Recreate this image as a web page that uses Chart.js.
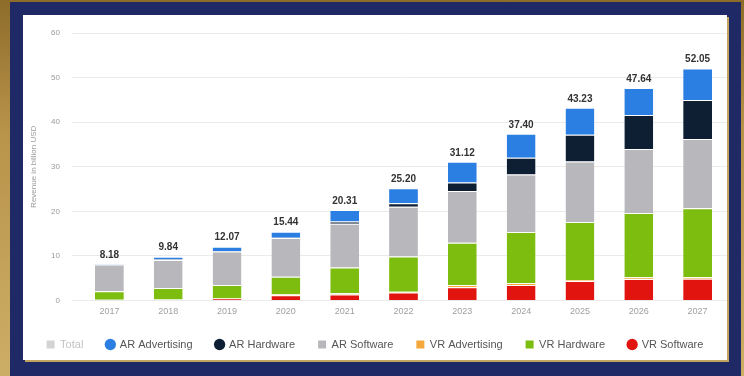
<!DOCTYPE html>
<html>
<head>
<meta charset="utf-8">
<script src="https://cdn.jsdelivr.net/npm/chart.js@4.4.1/dist/chart.umd.min.js"></script>
<style>
  html, body { margin: 0; padding: 0; }
  body {
    width: 744px; height: 376px; overflow: hidden; position: relative;
    background: linear-gradient(180deg, #8d6c2a 0%, #b8934a 35%, #cdae66 100%);
  }
  #frame {
    position: absolute; left: 10px; top: 2px; width: 731px; height: 374px;
    background: #1f2966;
  }
  #panel {
    position: absolute; left: 23px; top: 15px; width: 704px; height: 345px;
    background: #fff; box-shadow: 2px 2px 0 #c2a45e;
  }
  canvas { display: block; }
</style>
</head>
<body>
<div id="frame"></div>
<div id="panel"><canvas id="myChart" width="704" height="345"></canvas></div>
<script>
// years on the x axis
var years = ['2017', '2018', '2019', '2020', '2021', '2022', '2023', '2024', '2025', '2026', '2027'];

// segment values, billion USD
var vrSoftware    = [0.10, 0.15, 0.40, 1.20, 1.35, 1.80, 3.00, 3.50, 4.40, 4.80, 4.90];
var vrAdvertising = [0.05, 0.05, 0.10, 0.20, 0.25, 0.15, 0.45, 0.45, 0.20, 0.40, 0.30];
var vrHardware    = [1.90, 2.60, 3.00, 3.90, 5.80, 7.90, 9.50, 11.40, 13.00, 14.40, 15.50];
var arSoftware    = [6.00, 6.30, 7.50, 8.70, 9.80, 11.20, 11.60, 12.90, 13.60, 14.40, 15.50];
var arHardware    = [0.03, 0.10, 0.10, 0.10, 0.50, 0.75, 1.90, 3.75, 6.00, 7.60, 8.80];
var arAdvertising = [0.10, 0.64, 0.97, 1.34, 2.61, 3.40, 4.67, 5.40, 6.03, 6.04, 7.05];
var totals        = [8.18, 9.84, 12.07, 15.44, 20.31, 25.20, 31.12, 37.40, 43.23, 47.64, 52.05];

var yTicks = [0, 10, 20, 30, 40, 50, 60];

// order of the legend entries, left to right
var legendOrder = ['Total', 'AR Advertising', 'AR Hardware', 'AR Software', 'VR Advertising', 'VR Hardware', 'VR Software'];

var fontName = "'Liberation Sans', Arial, sans-serif";

function makeSet(label, data, color, style) {
    return {
        label: label,
        data: data,
        backgroundColor: color,
        borderColor: 'rgba(255,255,255,0.55)',
        borderWidth: { top: 1, left: 0, right: 0, bottom: 0 },
        borderSkipped: false,
        legendStyle: style
    };
}

// labels with the total on top of every stack
var totalLabels = {
    id: 'totalLabels',
    afterDatasetsDraw(chart) {
        var ctx = chart.ctx;
        var topMeta = chart.getDatasetMeta(5);
        ctx.save();
        ctx.font = 'bold 10px ' + fontName;
        ctx.fillStyle = '#333';
        ctx.textAlign = 'center';
        ctx.textBaseline = 'bottom';
        for (let i = 0; i < totals.length; i++) {
            var bar = topMeta.data[i];
            ctx.fillText(totals[i].toFixed(2), bar.x, bar.y - 4);
        }
        ctx.restore();
    }
};

var ctx = document.getElementById('myChart');
var chart = new Chart(ctx, {
    type: 'bar',
    data: {
        labels: years,
        datasets: [
            makeSet('VR Software', vrSoftware, '#e1140f', 'circle'),
            makeSet('VR Advertising', vrAdvertising, '#f4a93a', 'rect'),
            makeSet('VR Hardware', vrHardware, '#7dbd10', 'rect'),
            makeSet('AR Software', arSoftware, '#b8b8bc', 'rect'),
            makeSet('AR Hardware', arHardware, '#0f1f33', 'circle'),
            makeSet('AR Advertising', arAdvertising, '#2c7fe2', 'circle'),
            {
                label: 'Total',
                data: totals,
                backgroundColor: '#d4d4d4',
                hidden: true,
                legendStyle: 'rect'
            }
        ]
    },
    options: {
        responsive: false,
        animation: false,
        layout: { padding: { top: 18, right: 0, bottom: 0, left: 0 } },
        datasets: {
            bar: { categoryPercentage: 1, barPercentage: 0.49 }
        },
        scales: {
            x: {
                stacked: true,
                grid: { display: false, drawTicks: false },
                border: { display: false },
                ticks: { color: '#a0a0a0', font: { family: fontName, size: 9 }, padding: 6 },
                afterFit(scale) { scale.height = 15.5; }
            },
            y: {
                stacked: true,
                min: 0,
                max: 60,
                afterBuildTicks(scale) { scale.ticks = yTicks.map(v => ({ value: v })); },
                grid: { color: '#ebebeb', lineWidth: 1, drawTicks: true, tickLength: 8 },
                border: { display: false },
                ticks: { color: '#9a9a9a', font: { family: fontName, size: 8 }, padding: 12 },
                title: {
                    display: true,
                    text: 'Revenue in billion USD',
                    color: '#9a9a9a',
                    font: { family: fontName, size: 8 },
                    padding: { top: 6, bottom: 0 }
                },
                afterFit(scale) { scale.width = 57; }
            }
        },
        plugins: {
            tooltip: { enabled: false },
            legend: {
                position: 'bottom',
                onClick: null,
                labels: {
                    usePointStyle: true,
                    boxWidth: 8,
                    boxHeight: 8,
                    padding: 23,
                    color: '#555',
                    font: { family: fontName, size: 11 },
                    sort(a, b) {
                        return legendOrder.indexOf(a.text) - legendOrder.indexOf(b.text);
                    },
                    generateLabels(chart) {
                        var items = Chart.defaults.plugins.legend.labels.generateLabels(chart);
                        items.forEach(item => {
                            var ds = chart.data.datasets[item.datasetIndex];
                            item.pointStyle = ds.legendStyle;
                            item.strokeStyle = ds.backgroundColor;
                            item.lineWidth = 0;
                            item.hidden = false;
                            if (ds.label == 'Total') {
                                item.fontColor = '#c4c4c4';
                            }
                        });
                        return items;
                    }
                }
            }
        }
    },
    plugins: [totalLabels]
});
</script>
</body>
</html>
